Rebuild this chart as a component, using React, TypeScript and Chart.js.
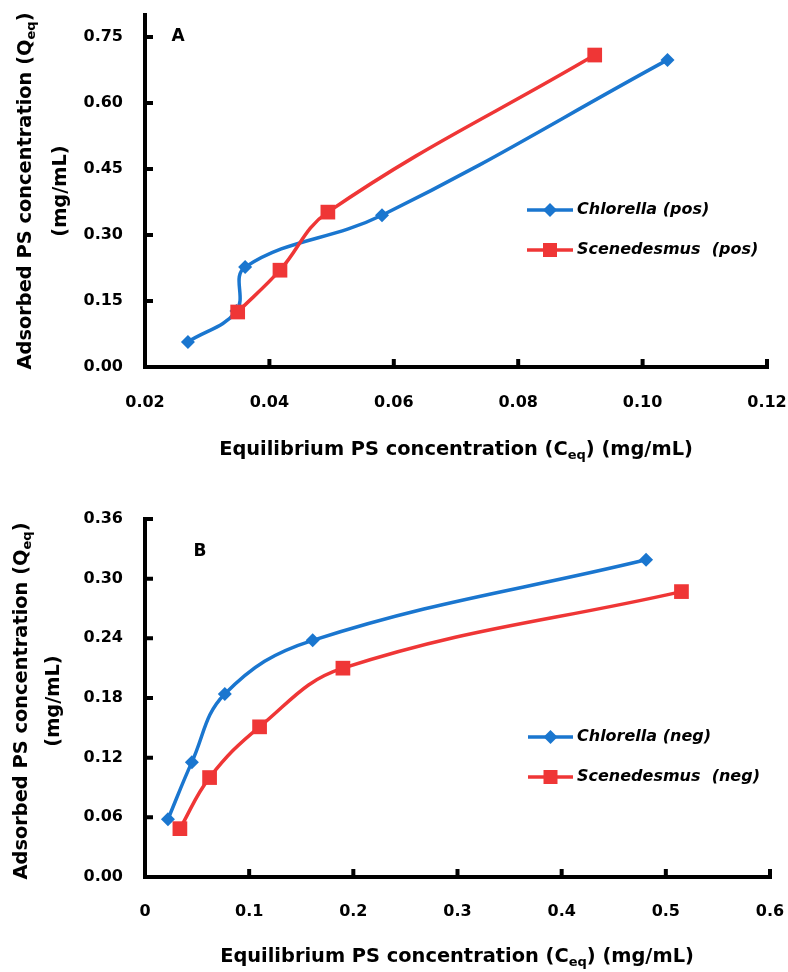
import React, { useEffect, useRef } from 'react';
import { Chart, registerables } from 'chart.js';

Chart.register(...registerables);

// ---------- DATA ----------
// Panel A (pos)
const topChlorellaX = [0.0269, 0.0347, 0.0361, 0.0581, 0.104];
const topChlorellaY = [0.057, 0.127, 0.227, 0.345, 0.698];
const topScenedesmusX = [0.0349, 0.0417, 0.0494, 0.0923];
const topScenedesmusY = [0.125, 0.22, 0.352, 0.709];
const topXTicks = [0.02, 0.04, 0.06, 0.08, 0.1, 0.12];
const topXLabels = ['0.02', '0.04', '0.06', '0.08', '0.10', '0.12'];
const topYTicks = [0, 0.15, 0.3, 0.45, 0.6, 0.75];
const topYLabels = ['0.00', '0.15', '0.30', '0.45', '0.60', '0.75'];
const topLegend = ['Chlorella (pos)', 'Scenedesmus  (pos)'];

// Panel B (neg)
const botChlorellaX = [0.022, 0.045, 0.0766, 0.161, 0.481];
const botChlorellaY = [0.058, 0.1155, 0.184, 0.238, 0.319];
const botScenedesmusX = [0.0335, 0.062, 0.11, 0.19, 0.515];
const botScenedesmusY = [0.0486, 0.1, 0.151, 0.21, 0.287];
const botXTicks = [0, 0.1, 0.2, 0.3, 0.4, 0.5, 0.6];
const botXLabels = ['0', '0.1', '0.2', '0.3', '0.4', '0.5', '0.6'];
const botYTicks = [0, 0.06, 0.12, 0.18, 0.24, 0.3, 0.36];
const botYLabels = ['0.00', '0.06', '0.12', '0.18', '0.24', '0.30', '0.36'];
const botLegend = ['Chlorella (neg)', 'Scenedesmus  (neg)'];

const yTitleMain = ['Adsorbed PS concentration (Q', 'eq', ')'];
const yTitleUnit = '(mg/mL)';
const xTitle = ['Equilibrium PS concentration (C', 'eq', ') (mg/mL)'];

// ---------- STYLE ----------
const FAMILY = '"DejaVu Sans", sans-serif';
const BLUE = '#1a76cf';
const RED = '#ef3636';

type Part = { t: string; sub?: boolean };

function richParts(arr: string[]): Part[] {
  return [{ t: arr[0] }, { t: arr[1], sub: true }, { t: arr[2] }];
}

function drawRich(ctx: CanvasRenderingContext2D, parts: Part[], cx: number, cy: number, size: number) {
  const main = `bold ${size}px ${FAMILY}`;
  const sub = `bold ${Math.round(size * 0.68)}px ${FAMILY}`;
  let total = 0;
  for (const p of parts) {
    ctx.font = p.sub ? sub : main;
    total += ctx.measureText(p.t).width;
  }
  let x = cx - total / 2;
  ctx.textAlign = 'left';
  ctx.textBaseline = 'middle';
  for (const p of parts) {
    ctx.font = p.sub ? sub : main;
    ctx.fillText(p.t, x, p.sub ? cy + size * 0.3 : cy);
    x += ctx.measureText(p.t).width;
  }
}

function drawMarker(ctx: CanvasRenderingContext2D, kind: string, x: number, y: number, color: string) {
  ctx.fillStyle = color;
  ctx.beginPath();
  if (kind === 'diamond') {
    const r = 7;
    ctx.moveTo(x, y - r);
    ctx.lineTo(x + r, y);
    ctx.lineTo(x, y + r);
    ctx.lineTo(x - r, y);
    ctx.closePath();
  } else {
    const h = 7;
    ctx.rect(x - h, y - h, 2 * h, 2 * h);
  }
  ctx.fill();
}

const panelDecor = {
  id: 'panelDecor',
  afterDraw(chart: any, _args: any, opts: any) {
    const { ctx, chartArea: ca, scales } = chart;
    const xs = scales.x;
    const ys = scales.y;
    ctx.save();
    // axes
    ctx.strokeStyle = '#000';
    ctx.lineWidth = 4;
    ctx.lineCap = 'square';
    ctx.beginPath();
    ctx.moveTo(ca.left, ca.top);
    ctx.lineTo(ca.left, ca.bottom);
    ctx.lineTo(ca.right, ca.bottom);
    ctx.stroke();
    // inside tick marks
    ctx.lineCap = 'butt';
    ctx.lineWidth = 4;
    ctx.beginPath();
    xs.ticks.forEach((t: any) => {
      const px = xs.getPixelForValue(t.value);
      if (Math.abs(px - ca.left) < 3) return;
      ctx.moveTo(px, ca.bottom);
      ctx.lineTo(px, ca.bottom - 8);
    });
    ys.ticks.forEach((t: any) => {
      const py = ys.getPixelForValue(t.value);
      if (Math.abs(py - ca.bottom) < 3) return;
      ctx.moveTo(ca.left, py);
      ctx.lineTo(ca.left + 8, py);
    });
    ctx.stroke();

    ctx.fillStyle = '#000';
    // panel letter
    ctx.font = `bold 17px ${FAMILY}`;
    ctx.textAlign = 'center';
    ctx.textBaseline = 'middle';
    ctx.fillText(opts.letter, opts.letterX, opts.letterY);

    // x title
    drawRich(ctx, richParts(xTitle), opts.xTitleX, opts.xTitleY, 19.4);

    // y title
    ctx.save();
    ctx.translate(opts.yTitle1X, opts.yTitleY);
    ctx.rotate(-Math.PI / 2);
    drawRich(ctx, richParts(yTitleMain), 0, 0, 19.4);
    ctx.restore();
    ctx.save();
    ctx.translate(opts.yTitle2X, opts.yTitleY);
    ctx.rotate(-Math.PI / 2);
    ctx.font = `bold 19.4px ${FAMILY}`;
    ctx.textAlign = 'center';
    ctx.textBaseline = 'middle';
    ctx.fillText(yTitleUnit, 0, 0);
    ctx.restore();

    // legend
    const entries = [
      { label: opts.legend[0], color: BLUE, kind: 'diamond' },
      { label: opts.legend[1], color: RED, kind: 'square' },
    ];
    entries.forEach((e, i) => {
      const y = opts.legendY + i * opts.legendGap;
      ctx.strokeStyle = e.color;
      ctx.lineWidth = 3.5;
      ctx.beginPath();
      ctx.moveTo(opts.legendX1, y);
      ctx.lineTo(opts.legendX2, y);
      ctx.stroke();
      drawMarker(ctx, e.kind, (opts.legendX1 + opts.legendX2) / 2, y, e.color);
      ctx.fillStyle = '#000';
      ctx.font = `italic bold 16px ${FAMILY}`;
      ctx.textAlign = 'left';
      ctx.textBaseline = 'middle';
      ctx.fillText(e.label, opts.legendX2 + 4, y);
    });
    ctx.restore();
  },
};

function pts(xs: number[], ys: number[]) {
  return xs.map((x, i) => ({ x, y: ys[i] }));
}

function zeroPad(s: any) {
  s.paddingLeft = 0;
  s.paddingRight = 0;
  s.paddingTop = 0;
  s.paddingBottom = 0;
}

function makeConfig(p: any): any {
  const tickFont = { family: FAMILY, weight: 'bold' as const, size: 16 };
  return {
    type: 'line',
    data: {
      datasets: [
        {
          label: p.legend[0],
          data: pts(p.bx, p.by),
          borderColor: BLUE,
          backgroundColor: BLUE,
          borderWidth: 3.5,
          pointStyle: 'rectRot',
          pointRadius: 7,
          pointBorderWidth: 0,
          tension: 0.4,
          order: 1,
        },
        {
          label: p.legend[1],
          data: pts(p.rx, p.ry),
          borderColor: RED,
          backgroundColor: RED,
          borderWidth: 3.5,
          pointStyle: 'rect',
          pointRadius: 10.4,
          pointBorderWidth: 0,
          tension: 0.4,
          order: 0,
        },
      ],
    },
    options: {
      animation: false,
      responsive: true,
      maintainAspectRatio: false,
      events: [],
      layout: { padding: { top: p.padTop, right: p.padRight, left: 0, bottom: 0 } },
      plugins: {
        legend: { display: false },
        tooltip: { enabled: false },
        title: { display: false },
        panelDecor: p.decor,
      },
      scales: {
        x: {
          type: 'linear',
          min: p.xMin,
          max: p.xMax,
          grid: { display: false, drawTicks: false },
          border: { display: false },
          afterBuildTicks: (axis: any) => {
            axis.ticks = p.xTicks.map((v: number) => ({ value: v }));
          },
          afterFit: (s: any) => {
            s.height = p.xAxisH;
            zeroPad(s);
          },
          ticks: {
            color: '#000',
            font: tickFont,
            padding: p.xPad,
            maxRotation: 0,
            autoSkip: false,
            callback: (_v: any, i: number) => p.xLabels[i],
          },
        },
        y: {
          type: 'linear',
          min: 0,
          max: p.yMax,
          grid: { display: false, drawTicks: false },
          border: { display: false },
          afterBuildTicks: (axis: any) => {
            axis.ticks = p.yTicks.map((v: number) => ({ value: v }));
          },
          afterFit: (s: any) => {
            s.width = 145;
            zeroPad(s);
          },
          ticks: {
            color: '#000',
            font: tickFont,
            padding: 22,
            autoSkip: false,
            callback: (_v: any, i: number) => p.yLabels[i],
          },
        },
      },
    },
    plugins: [panelDecor],
  };
}

const topPanel = {
  bx: topChlorellaX, by: topChlorellaY, rx: topScenedesmusX, ry: topScenedesmusY,
  xTicks: topXTicks, xLabels: topXLabels, yTicks: topYTicks, yLabels: topYLabels,
  legend: topLegend,
  xMin: 0.02, xMax: 0.12, yMax: 0.8,
  padTop: 15, padRight: 21, xAxisH: 113, xPad: 26,
  decor: {
    letter: 'A', letterX: 178, letterY: 37,
    xTitleX: 456, xTitleY: 450,
    yTitle1X: 26, yTitle2X: 61, yTitleY: 191,
    legend: topLegend, legendX1: 527, legendX2: 573, legendY: 210, legendGap: 40,
  },
};

const botPanel = {
  bx: botChlorellaX, by: botChlorellaY, rx: botScenedesmusX, ry: botScenedesmusY,
  xTicks: botXTicks, xLabels: botXLabels, yTicks: botYTicks, yLabels: botYLabels,
  legend: botLegend,
  xMin: 0, xMax: 0.6, yMax: 0.36,
  padTop: 39, padRight: 18, xAxisH: 95, xPad: 25,
  decor: {
    letter: 'B', letterX: 200, letterY: 72,
    xTitleX: 457, xTitleY: 477,
    yTitle1X: 22, yTitle2X: 54, yTitleY: 221,
    legend: botLegend, legendX1: 528, legendX2: 573, legendY: 257, legendGap: 40,
  },
};

function Panel({ cfg, top, height }: { cfg: any; top: number; height: number }) {
  const ref = useRef<HTMLCanvasElement | null>(null);
  useEffect(() => {
    if (!ref.current) return;
    const chart = new Chart(ref.current, makeConfig(cfg));
    return () => chart.destroy();
  }, [cfg]);
  return (
    <div style={{ position: 'absolute', left: 0, top, width: 788, height }}>
      <canvas ref={ref} />
    </div>
  );
}

export default function App() {
  return (
    <div style={{ position: 'absolute', left: 0, top: 0, width: 788, height: 972, background: '#fff' }}>
      <Panel cfg={topPanel} top={0} height={480} />
      <Panel cfg={botPanel} top={480} height={492} />
    </div>
  );
}
